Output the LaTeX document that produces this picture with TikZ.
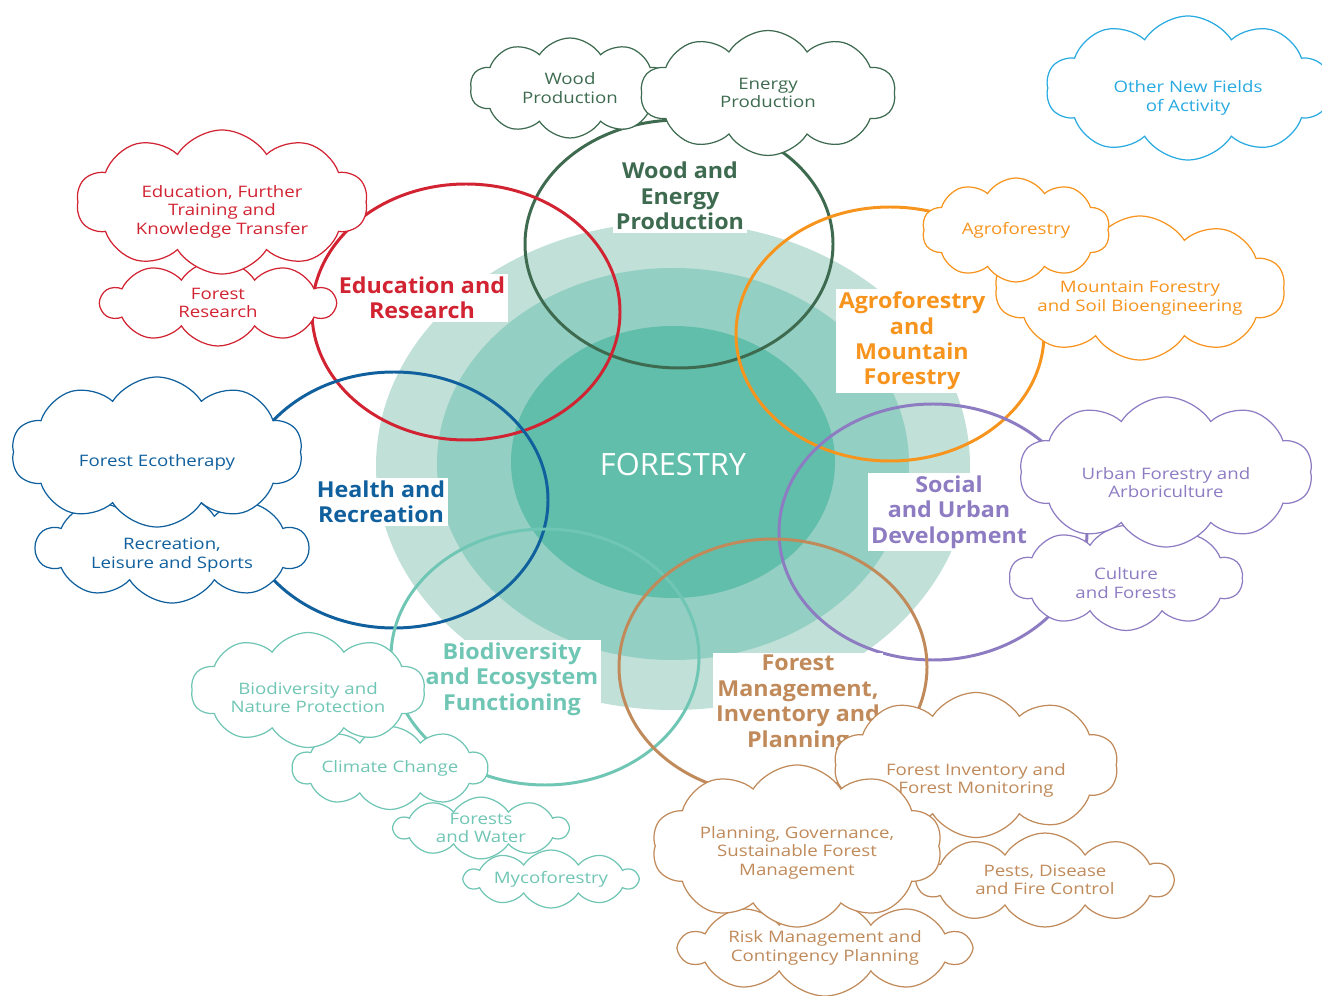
\documentclass[tikz,border=0pt]{standalone}
\usepackage{fontspec}
\setmainfont{Open Sans}
\newfontfamily\cloudfont{Open Sans}[FakeStretch=1.18]
\newfontfamily\topicfont{Open Sans}[FakeStretch=1.06]
\usetikzlibrary{shapes.symbols}

\definecolor{woodgreen}{RGB}{62,107,80}
\definecolor{edured}{RGB}{210,35,50}
\definecolor{agroorange}{RGB}{247,148,29}
\definecolor{healthblue}{RGB}{16,96,158}
\definecolor{socialpurple}{RGB}{142,124,195}
\definecolor{bioteal}{RGB}{112,198,180}
\definecolor{managebrown}{RGB}{192,138,90}
\definecolor{newblue}{RGB}{41,171,226}
\definecolor{discouter}{RGB}{192,224,216}
\definecolor{discmiddle}{RGB}{147,207,194}
\definecolor{discinner}{RGB}{96,190,170}

% pushes the text of a cloud down a little
\newcommand\textdrop[1]{\rule{0pt}{#1}}

\begin{document}
\begin{tikzpicture}[x=0.02cm,y=-0.02cm,
  cloudbox/.style={draw=#1,text=#1,fill=white,shape=cloud,cloud puffs=10,
    cloud puff arc=115,cloud ignores aspect,align=center,inner sep=0pt,
    line width=0.7pt,font=\cloudfont\fontsize{9}{10.5}\selectfont},
  topic/.style={fill=white,text=#1,align=center,inner sep=1.5pt,
    font=\topicfont\bfseries\fontsize{12.5}{14.5}\selectfont},
  ring/.style={draw=#1,line width=1.7pt}]
  \useasboundingbox (0,0) rectangle (1322,996);

  % the three discs in the middle
  \fill[discouter] (673,466) ellipse [x radius=297, y radius=244];
  \fill[discmiddle] (673,464) ellipse [x radius=236, y radius=196];
  \fill[discinner] (673,462) ellipse [x radius=162, y radius=136];
  \node[text=white,font=\fontsize{17.5}{20}\selectfont] (forestry) at (673,465) {FORESTRY};

  % the seven fields
  \draw[ring=woodgreen] (679,244) ellipse [x radius=154, y radius=124];
  \draw[ring=edured] (466,312) ellipse [x radius=154, y radius=128];
  \draw[ring=agroorange] (890,334) ellipse [x radius=154, y radius=127];
  \draw[ring=healthblue] (394,500) ellipse [x radius=154, y radius=128];
  \draw[ring=socialpurple] (933,532) ellipse [x radius=154, y radius=128];
  \draw[ring=bioteal] (545,657) ellipse [x radius=154, y radius=128];
  \draw[ring=managebrown] (773,667) ellipse [x radius=154, y radius=128];

  \node[topic=woodgreen] (wood) at (680,196) {Wood and\\Energy\\Production};
  \node[topic=edured] (edu) at (422,298) {Education and\\Research};
  \node[topic=agroorange] (agro) at (912,341) {Agroforestry\\and\\Mountain\\Forestry};
  \node[topic=healthblue] (health) at (381,502) {Health and\\Recreation};
  \node[topic=socialpurple] (social) at (949,512) {Social\\and Urban\\Development};
  \node[topic=bioteal] (bio) at (512,679) {Biodiversity\\and Ecosystem\\Functioning};
  \node[topic=managebrown] (manage) at (798,704) {Forest\\Management,\\Inventory and\\Planning};

  % clouds round the fields
  \node[cloudbox=woodgreen,minimum width=4.0cm,minimum height=2.0cm] (woodprod) at (570,88) {Wood\\Production};
  \node[cloudbox=woodgreen,minimum width=5.1cm,minimum height=2.5cm] (energyprod) at (768,93) {Energy\\Production};

  \node[cloudbox=edured,minimum width=4.68cm,minimum height=1.72cm] (research) at (218,303) {Forest\\Research};
  \node[cloudbox=edured,minimum width=5.82cm,minimum height=2.88cm] (training) at (222,202) {\textdrop{18pt}Education, Further\\Training and\\Knowledge Transfer};

  \node[cloudbox=agroorange,minimum width=5.8cm,minimum height=2.88cm] (mountain) at (1140,288) {\textdrop{18pt}Mountain Forestry\\and Soil Bioengineering};
  \node[cloudbox=agroorange,minimum width=3.76cm,minimum height=2.08cm] (agrocloud) at (1016,230) {Agroforestry};

  \node[cloudbox=healthblue,minimum width=5.44cm,minimum height=2.2cm] (leisure) at (172,548) {\textdrop{14.5pt}Recreation,\\Leisure and Sports};
  \node[cloudbox=healthblue,minimum width=5.82cm,minimum height=3.0cm] (ecotherapy) at (157,452) {\textdrop{19pt}Forest Ecotherapy};

  \node[cloudbox=socialpurple,minimum width=4.66cm,minimum height=2.1cm] (culture) at (1126,578) {\textdrop{12.5pt}Culture\\and Forests};
  \node[cloudbox=socialpurple,minimum width=5.86cm,minimum height=3.0cm] (urban) at (1166,472) {\textdrop{19pt}Urban Forestry and\\Arboriculture};

  \node[cloudbox=bioteal,minimum width=3.46cm,minimum height=1.16cm] (myco) at (551,879) {Mycoforestry};
  \node[cloudbox=bioteal,minimum width=3.48cm,minimum height=1.16cm] (water) at (481,828) {Forests\\and Water};
  \node[cloudbox=bioteal,minimum width=3.9cm,minimum height=1.66cm] (climate) at (390,768) {Climate Change};
  \node[cloudbox=bioteal,minimum width=4.68cm,minimum height=2.3cm] (nature) at (308,690) {\textdrop{15.5pt}Biodiversity and\\Nature Protection};

  \node[cloudbox=managebrown,minimum width=5.68cm,minimum height=2.9cm] (inventory) at (976,765) {\textdrop{24.5pt}Forest Inventory and\\Forest Monitoring};
  \node[cloudbox=managebrown,minimum width=5.1cm,minimum height=1.88cm] (pests) at (1045,880) {Pests, Disease\\and Fire Control};
  \node[cloudbox=managebrown,minimum width=5.8cm,minimum height=1.92cm] (risk) at (825,948) {Risk Management and\\Contingency Planning};
  \node[cloudbox=managebrown,minimum width=5.8cm,minimum height=3.24cm] (planning) at (797,846) {\textdrop{14.5pt}Planning, Governance,\\Sustainable Forest\\Management};

  \node[cloudbox=newblue,minimum width=5.68cm,minimum height=2.88cm] (newfields) at (1188,88) {\textdrop{18pt}Other New Fields\\of Activity};
\end{tikzpicture}
\end{document}
